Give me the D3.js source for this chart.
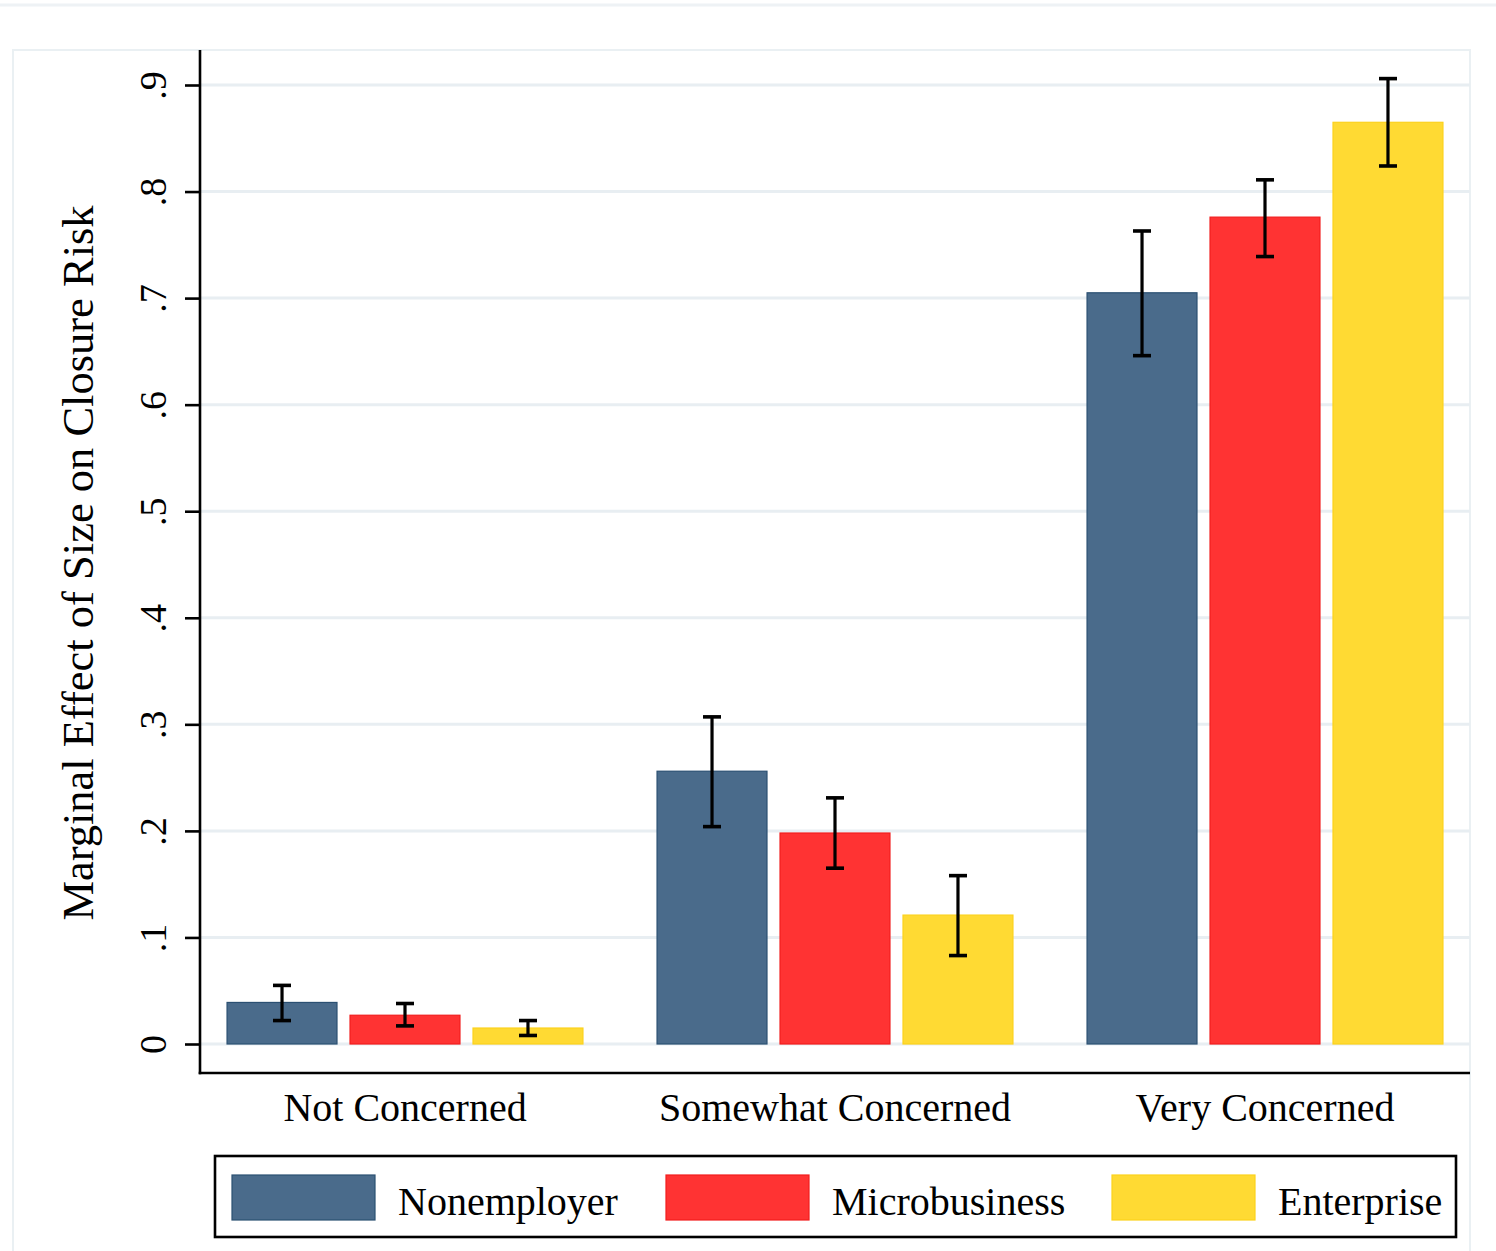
<!DOCTYPE html>
<html>
<head>
<meta charset="utf-8">
<script src="https://cdn.jsdelivr.net/npm/d3@7"></script>
<style>
  html, body { margin: 0; padding: 0; background: #fff; }
  svg { display: block; }
  text { font-family: "Liberation Serif", "Times New Roman", serif; fill: #000; }
</style>
</head>
<body>
<svg id="chart" width="1496" height="1251"></svg>
<script>
// Concern level groups and firm-size series
const groups = ["Not Concerned", "Somewhat Concerned", "Very Concerned"];
const series = ["Nonemployer", "Microbusiness", "Enterprise"];

// Marginal effects (point estimates) per series, in group order
const nonemployerVals   = [0.039, 0.256, 0.705];
const microbusinessVals = [0.027, 0.198, 0.776];
const enterpriseVals    = [0.015, 0.121, 0.865];

// Confidence interval bounds per series, in group order
const nonemployerLo   = [0.022, 0.204, 0.646];
const nonemployerHi   = [0.055, 0.307, 0.763];
const microbusinessLo = [0.017, 0.165, 0.739];
const microbusinessHi = [0.038, 0.231, 0.811];
const enterpriseLo    = [0.008, 0.083, 0.824];
const enterpriseHi    = [0.022, 0.158, 0.906];

const yTicks = [0, 0.1, 0.2, 0.3, 0.4, 0.5, 0.6, 0.7, 0.8, 0.9];
const yTickLabels = ["0", ".1", ".2", ".3", ".4", ".5", ".6", ".7", ".8", ".9"];
const yTitle = "Marginal Effect of Size on Closure Risk";

const fills   = { Nonemployer: "#4a6b8b", Microbusiness: "#ff3333", Enterprise: "#ffda33" };
const strokes = { Nonemployer: "#2b5072", Microbusiness: "#f21d1d", Enterprise: "#fcd21c" };

const valuesBy = { Nonemployer: nonemployerVals, Microbusiness: microbusinessVals, Enterprise: enterpriseVals };
const loBy = { Nonemployer: nonemployerLo, Microbusiness: microbusinessLo, Enterprise: enterpriseLo };
const hiBy = { Nonemployer: nonemployerHi, Microbusiness: microbusinessHi, Enterprise: enterpriseHi };

const rows = [];
groups.forEach((g, gi) => series.forEach(s => rows.push({
  group: g, series: s, value: valuesBy[s][gi], lo: loBy[s][gi], hi: hiBy[s][gi]
})));

const svg = d3.select("#chart");
const plotLeft = 200, plotRight = 1470, plotTop = 50, axisY = 1073;
const gridColor = "#e8eef2";

// faint rule along the top edge and the outer graph-region frame
svg.append("line").attr("x1", 0).attr("x2", 1496).attr("y1", 5).attr("y2", 5)
  .attr("stroke", "#eef2f5").attr("stroke-width", 3);
svg.append("path")
  .attr("d", `M13,1251 V50 H${plotRight} V1251`)
  .attr("fill", "none").attr("stroke", "#eaf0f3").attr("stroke-width", 2);

const y = d3.scaleLinear().domain([0, 0.9]).range([1044, 85]);
const x0 = d3.scaleBand().domain(groups).range([190, 1480]);
const x1 = d3.scaleBand().domain(series)
  .range([-x0.bandwidth() * 0.429, x0.bandwidth() * 0.429])
  .paddingInner(0.106).paddingOuter(0.053);

// gridlines
svg.append("g").selectAll("line").data(yTicks).join("line")
  .attr("x1", plotLeft).attr("x2", plotRight)
  .attr("y1", d => y(d)).attr("y2", d => y(d))
  .attr("stroke", gridColor).attr("stroke-width", 3);

// bars
const cx = d => x0(d.group) + x0.bandwidth() / 2;
svg.append("g").selectAll("rect").data(rows).join("rect")
  .attr("x", d => cx(d) + x1(d.series))
  .attr("width", x1.bandwidth())
  .attr("y", d => y(d.value))
  .attr("height", d => y(0) - y(d.value))
  .attr("fill", d => fills[d.series])
  .attr("stroke", d => strokes[d.series]).attr("stroke-width", 1.2);

// confidence intervals
const eb = svg.append("g").attr("stroke", "#000").attr("stroke-width", 3.2);
const mid = d => cx(d) + x1(d.series) + x1.bandwidth() / 2;
eb.selectAll("line.v").data(rows).join("line").attr("class", "v")
  .attr("x1", mid).attr("x2", mid)
  .attr("y1", d => y(d.hi)).attr("y2", d => y(d.lo));
["hi", "lo"].forEach(k => {
  eb.selectAll("line." + k).data(rows).join("line").attr("class", k)
    .attr("x1", d => mid(d) - 9).attr("x2", d => mid(d) + 9)
    .attr("y1", d => y(d[k])).attr("y2", d => y(d[k]))
    .attr("stroke-width", 3.6);
});

// y axis
const yAxis = d3.axisLeft(y).tickValues(yTicks)
  .tickFormat((d, i) => yTickLabels[i]).tickSize(15).tickPadding(0);
const ya = svg.append("g").attr("transform", `translate(${plotLeft},0)`).call(yAxis);
ya.select(".domain").remove();
ya.selectAll(".tick line").attr("stroke", "#000").attr("stroke-width", 2.6);
ya.selectAll(".tick text")
  .attr("x", 0).attr("y", 0).attr("dy", 0)
  .attr("transform", "translate(-34,0) rotate(-90)")
  .attr("text-anchor", "middle")
  .style("font-family", "'Liberation Serif', serif")
  .style("font-size", "38px").attr("fill", "#000");
svg.append("line").attr("x1", plotLeft).attr("x2", plotLeft)
  .attr("y1", plotTop).attr("y2", axisY + 1.3)
  .attr("stroke", "#000").attr("stroke-width", 2.6);

// x axis
const xa = svg.append("g").attr("transform", `translate(0,${axisY})`)
  .call(d3.axisBottom(x0).tickSize(0).tickPadding(0));
xa.select(".domain").remove();
xa.selectAll(".tick text").attr("y", 48).attr("dy", 0)
  .style("font-family", "'Liberation Serif', serif")
  .style("font-size", "40px").attr("fill", "#000");
svg.append("line").attr("x1", plotLeft - 1.3).attr("x2", plotRight)
  .attr("y1", axisY).attr("y2", axisY)
  .attr("stroke", "#000").attr("stroke-width", 2.6);

// y axis title
svg.append("text")
  .attr("transform", `translate(93,563) rotate(-90)`)
  .attr("text-anchor", "middle")
  .style("font-size", "44.5px")
  .text(yTitle);

// legend
const legend = svg.append("g");
legend.append("rect").attr("x", 215).attr("y", 1156).attr("width", 1241).attr("height", 81)
  .attr("fill", "#fff").attr("stroke", "#000").attr("stroke-width", 2.6);
const legendX = d3.scaleOrdinal().domain(series).range([232, 666, 1112]);
const li = legend.selectAll("g.item").data(series).join("g").attr("class", "item")
  .attr("transform", d => `translate(${legendX(d)},0)`);
li.append("rect").attr("x", 0).attr("y", 1175).attr("width", 143).attr("height", 45)
  .attr("fill", d => fills[d]).attr("stroke", d => strokes[d]).attr("stroke-width", 1.2);
li.append("text").attr("x", 166).attr("y", 1215)
  .style("font-size", "40px").text(d => d);
</script>
</body>
</html>
